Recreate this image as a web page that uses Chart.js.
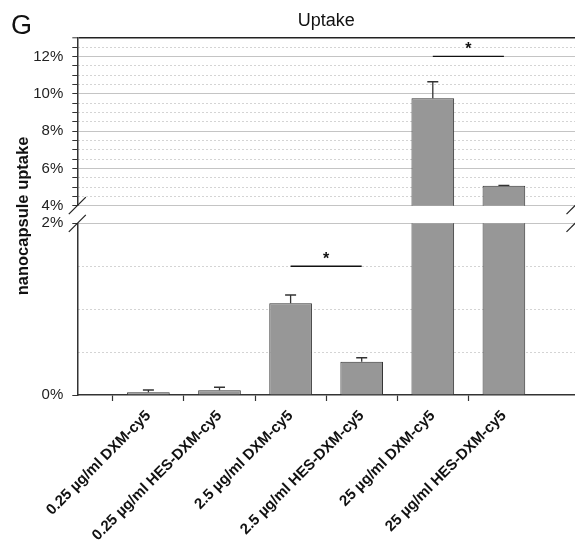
<!DOCTYPE html>
<html>
<head>
<meta charset="utf-8">
<script src="https://cdn.jsdelivr.net/npm/chart.js@4"></script>
<style>
  html, body { margin: 0; padding: 0; background: #fff; }
  #wrap { position: relative; width: 575px; height: 543px; }
  #wrap canvas { position: absolute; left: 0; top: 0; }
</style>
</head>
<body>
<div id="wrap">
  <canvas id="topChart" width="575" height="543"></canvas>
  <canvas id="bottomChart" width="575" height="543"></canvas>
</div>
<script>
// data (uptake in %)
const categories = [
  "0.25 µg/ml DXM-cy5",
  "0.25 µg/ml HES-DXM-cy5",
  "2.5 µg/ml DXM-cy5",
  "2.5 µg/ml HES-DXM-cy5",
  "25 µg/ml DXM-cy5",
  "25 µg/ml HES-DXM-cy5"
];
const uptake = [0.031, 0.055, 1.07, 0.388, 9.75, 5.07];
const uptakeErr = [0.027, 0.035, 0.095, 0.046, 0.89, 0.02];

// significance brackets: bar numbers (1-based) and height in %
const sigPairs = [[3, 4, 1.5], [5, 6, 12]];

// axis ranges of the two parts of the broken axis
const topRange = [4, 13];
const bottomRange = [0, 2];

// the category axis has an empty slot at each end
const xLabels = ["", ...categories, ""];
const barData = [null, ...uptake, null];

const FONT = "'Liberation Sans', Arial, sans-serif";
const AXIS_W = 77.3;
const TOP_AREA = [37.7, 205.7];
const BOTTOM_AREA = [223.3, 395];

Chart.defaults.font.family = FONT;
Chart.defaults.color = "#222";
Chart.defaults.animation = false;

// error bars and significance marks, drawn through the chart's own scales
const markersPlugin = {
  id: "markers",
  afterDatasetsDraw(chart) {
    const { ctx, chartArea, scales: { x, y } } = chart;
    ctx.save();
    ctx.beginPath();
    ctx.rect(chartArea.left, chartArea.top - 1, chartArea.right - chartArea.left, chartArea.bottom - chartArea.top + 2);
    ctx.clip();
    ctx.strokeStyle = "#333";
    ctx.lineWidth = 1.3;
    uptake.forEach((v, i) => {
      const px = x.getPixelForValue(i + 1);
      const y0 = y.getPixelForValue(v);
      const y1 = y.getPixelForValue(v + uptakeErr[i]);
      ctx.beginPath();
      ctx.moveTo(px, y0);
      ctx.lineTo(px, y1);
      ctx.moveTo(px - 5.5, y1);
      ctx.lineTo(px + 5.5, y1);
      ctx.stroke();
    });
    ctx.restore();

    ctx.save();
    sigPairs.forEach(([a, b, level]) => {
      if (level < y.min || level > y.max) return;
      const xa = x.getPixelForValue(a);
      const xb = x.getPixelForValue(b);
      const py = y.getPixelForValue(level);
      ctx.strokeStyle = "#111";
      ctx.lineWidth = 1.3;
      ctx.beginPath();
      ctx.moveTo(xa, py);
      ctx.lineTo(xb, py);
      ctx.stroke();
      ctx.fillStyle = "#111";
      ctx.font = "bold 16px " + FONT;
      ctx.textAlign = "center";
      ctx.textBaseline = "middle";
      ctx.fillText("*", (xa + xb) / 2, py - 7);
    });
    ctx.restore();
  }
};

// panel letter, y-axis title and axis break marks
const decorPlugin = {
  id: "decor",
  afterDraw(chart) {
    const { ctx } = chart;
    ctx.save();
    ctx.fillStyle = "#111";
    ctx.font = "27px " + FONT;
    ctx.textAlign = "left";
    ctx.textBaseline = "alphabetic";
    ctx.fillText("G", 11, 34);

    ctx.translate(28, 216);
    ctx.rotate(-Math.PI / 2);
    ctx.font = "bold 16.5px " + FONT;
    ctx.textAlign = "center";
    ctx.fillText("nanocapsule uptake", 0, 0);
    ctx.restore();

    ctx.save();
    ctx.strokeStyle = "#222";
    ctx.lineWidth = 1.2;
    const slash = (cx, cy, d) => {
      ctx.beginPath();
      ctx.moveTo(cx - d, cy + d);
      ctx.lineTo(cx + d, cy - d);
      ctx.stroke();
    };
    slash(AXIS_W, TOP_AREA[1], 8.5);
    slash(AXIS_W, BOTTOM_AREA[0], 8.5);
    slash(571, TOP_AREA[1] + 4, 4.5);
    slash(571, BOTTOM_AREA[0] + 4, 4.5);
    ctx.restore();
  }
};

function barDataset() {
  return {
    data: barData,
    backgroundColor: "#979797",
    borderColor: "#333",
    borderWidth: 1,
    barPercentage: 0.6,
    categoryPercentage: 1.0,
    clip: 0
  };
}

function xScale(showLabels) {
  return {
    type: "category",
    labels: xLabels,
    offset: false,
    display: true,
    grid: {
      drawOnChartArea: false,
      drawTicks: showLabels,
      tickLength: 6,
      tickColor: ctx => (ctx.index === 0 || ctx.index === xLabels.length - 1) ? "rgba(0,0,0,0)" : "#333",
      tickWidth: 1.2
    },
    border: { display: showLabels, color: "#333", width: 1.5 },
    ticks: {
      display: showLabels,
      autoSkip: false,
      minRotation: 45,
      maxRotation: 45,
      padding: 6,
      color: "#111",
      font: { size: 15, weight: "bold" }
    },
    afterFit(scale) {
      scale.height = showLabels ? 543 - BOTTOM_AREA[1] : 0;
      scale.paddingLeft = 0;
      scale.paddingRight = 0;
    }
  };
}

function yTicks() {
  return {
    stepSize: 0.5,
    maxTicksLimit: 40,
    autoSkip: false,
    padding: 9,
    color: "#222",
    font: { size: 15 },
    callback: v => (v % 2 === 0 ? v + "%" : "")
  };
}

// in Chart.js v4 the grid line dash comes from border.dash, per tick
function yBorder(isMajor) {
  return {
    color: "#333",
    width: 1.5,
    dash: ctx => (ctx.tick === undefined || isMajor(ctx.tick.value) ? [] : [1, 3])
  };
}

// top part: 4 % to 13 %
new Chart(document.getElementById("topChart"), {
  type: "bar",
  data: { labels: xLabels, datasets: [barDataset()] },
  options: {
    responsive: false,
    layout: { padding: { left: 0, right: 0, top: 0, bottom: 543 - TOP_AREA[1] } },
    plugins: {
      legend: { display: false },
      tooltip: { enabled: false },
      title: {
        display: true,
        text: "Uptake",
        fullSize: false,
        color: "#111",
        font: { size: 18, weight: "normal" },
        padding: { top: 10, bottom: 6.1 }
      }
    },
    scales: {
      x: Object.assign(xScale(false), { display: false }),
      y: {
        min: topRange[0],
        max: topRange[1],
        afterFit(scale) { scale.width = AXIS_W; },
        ticks: yTicks(),
        grid: {
          color: ctx => {
            const v = ctx.tick.value;
            if (v === topRange[1]) return "#222";
            return v % 2 === 0 ? "#c4c4c4" : "#a8a8a8";
          },
          lineWidth: ctx => (ctx.tick.value === topRange[1] ? 1.6 : 1),
          tickColor: "#333",
          tickLength: 5,
          tickWidth: 1
        },
        border: yBorder(v => v % 2 === 0 || v === topRange[1])
      }
    }
  },
  plugins: [markersPlugin]
});

// bottom part: 0 % to 2 %
new Chart(document.getElementById("bottomChart"), {
  type: "bar",
  data: { labels: xLabels, datasets: [barDataset()] },
  options: {
    responsive: false,
    layout: { padding: { left: 0, right: 0, top: BOTTOM_AREA[0], bottom: 0 } },
    plugins: {
      legend: { display: false },
      tooltip: { enabled: false },
      title: { display: false }
    },
    scales: {
      x: xScale(true),
      y: {
        min: bottomRange[0],
        max: bottomRange[1],
        afterFit(scale) { scale.width = AXIS_W; },
        ticks: yTicks(),
        grid: {
          color: ctx => {
            const v = ctx.tick.value;
            if (v === 0) return "rgba(0,0,0,0)";
            return v % 2 === 0 ? "#c4c4c4" : "#a8a8a8";
          },
          lineWidth: 1,
          tickColor: ctx => (ctx.tick.value % 2 === 0 ? "#333" : "rgba(0,0,0,0)"),
          tickLength: 5,
          tickWidth: 1
        },
        border: yBorder(v => v % 2 === 0)
      }
    }
  },
  plugins: [markersPlugin, decorPlugin]
});
</script>
</body>
</html>
